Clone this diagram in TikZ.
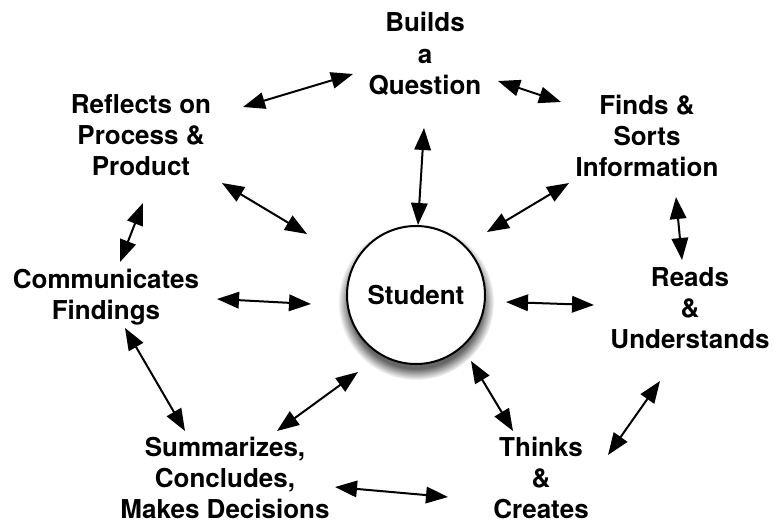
\documentclass[tikz,border=0pt]{standalone}
\usepackage{fontspec}
\setmainfont{TeX Gyre Heros}
\usetikzlibrary{arrows.meta,fadings}
\begin{document}
\begin{tikzpicture}[x=1pt,y=-1pt,
  lbl/.style={align=center,inner sep=0pt,font=\bfseries\fontsize{26}{31.3}\selectfont},
  link/.style={line width=2pt,{Triangle[length=22pt,width=16.5pt]}-{Triangle[length=22pt,width=16.5pt]}},
  hub/.style={circle,draw,line width=2pt,fill=white,minimum size=138pt,inner sep=0pt,
    font=\bfseries\fontsize{26}{31}\selectfont},
  hubshadow/.style={fill=black,opacity=0.6,path fading=circle with fuzzy edge 15 percent}]
\fill[white] (0,0) rectangle (774,523);
\path[use as bounding box] (0,0) rectangle (774,523);

\fill[hubshadow] (416,302) circle (78);
\node[hub] (student) at (416,295) {Student};
\node[lbl] (builds) at (425,54) {Builds\\a\\Question};
\node[lbl] (finds) at (647,136) {Finds \&\\Sorts\\Information};
\node[lbl] (reads) at (690,308) {Reads\\\&\\Understands};
\node[lbl] (thinks) at (541,478) {Thinks\\\&\\Creates};
\node[lbl] (summ) at (225,478) {Summarizes,\\Concludes,\\Makes Decisions};
\node[lbl] (comm) at (106,297) {Communicates\\Findings};
\node[lbl] (refl) at (141,135) {Reflects on\\Process \&\\Product};

% arrow ends
\coordinate (rb1) at (243,107); \coordinate (rb2) at (353,74);
\coordinate (bf1) at (498,81);  \coordinate (bf2) at (561,102);
\coordinate (bs1) at (424,128); \coordinate (bs2) at (418,225);
\coordinate (fs1) at (569,183); \coordinate (fs2) at (487,232);
\coordinate (fr1) at (676,197); \coordinate (fr2) at (682,260);
\coordinate (rs1) at (222,183); \coordinate (rs2) at (307,234);
\coordinate (rc1) at (143,203); \coordinate (rc2) at (120,262);
\coordinate (cs1) at (217,299); \coordinate (cs2) at (311,304);
\coordinate (sr1) at (506,302); \coordinate (sr2) at (594,305);
\coordinate (cm1) at (125,328); \coordinate (cm2) at (185,431);
\coordinate (ss1) at (358,372); \coordinate (ss2) at (277,431);
\coordinate (st1) at (471,361); \coordinate (st2) at (513,431);
\coordinate (rt1) at (660,381); \coordinate (rt2) at (608,455);
\coordinate (mt1) at (335,487); \coordinate (mt2) at (448,497);

\draw[link] (rb1) -- (rb2);
\draw[link] (bf1) -- (bf2);
\draw[link] (bs1) -- (bs2);
\draw[link] (fs1) -- (fs2);
\draw[link] (fr1) -- (fr2);
\draw[link] (rs1) -- (rs2);
\draw[link] (rc1) -- (rc2);
\draw[link] (cs1) -- (cs2);
\draw[link] (sr1) -- (sr2);
\draw[link] (cm1) -- (cm2);
\draw[link] (ss1) -- (ss2);
\draw[link] (st1) -- (st2);
\draw[link] (rt1) -- (rt2);
\draw[link] (mt1) -- (mt2);
\end{tikzpicture}
\end{document}
